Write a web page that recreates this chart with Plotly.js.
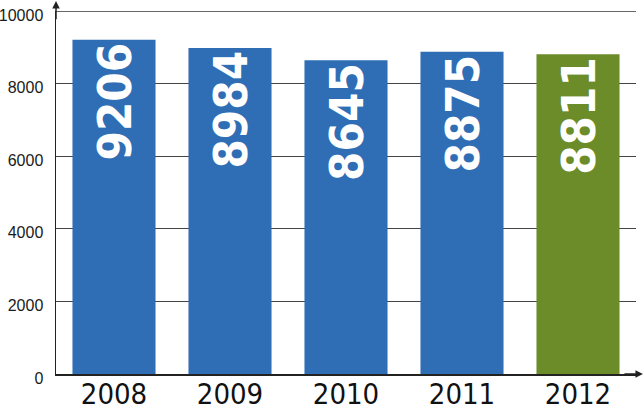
<!DOCTYPE html>
<html>
<head>
<meta charset="utf-8">
<script src="https://cdn.plot.ly/plotly-3.0.1.min.js"></script>
<style>html,body{margin:0;padding:0;background:#fff;}#chart{width:644px;height:414px;}</style>
</head>
<body>
<div id="chart"></div>
<script>
const years = ['2008', '2009', '2010', '2011', '2012'];
const values = [9206, 8984, 8645, 8875, 8811];
const barColors = ['#2f6eb5', '#2f6eb5', '#2f6eb5', '#2f6eb5', '#6b8c28'];
const yTicks = [0, 2000, 4000, 6000, 8000, 10000];
const yMax = 10000;

const trace = {
  type: 'bar',
  x: years,
  y: values,
  width: 0.716,
  marker: {color: barColors, line: {width: 0}},
  text: values.map(String),
  textposition: 'inside',
  insidetextanchor: 'end',
  textangle: -90,
  textfont: {family: '"DejaVu Sans Condensed", "DejaVu Sans", sans-serif', stretch: 'condensed', size: 47, color: '#ffffff', weight: 'bold'},
  hoverinfo: 'none',
  cliponaxis: false
};

const layout = {
  width: 644, height: 414,
  margin: {l: 56, r: 8, t: 11, b: 40},
  paper_bgcolor: '#ffffff', plot_bgcolor: '#ffffff',
  showlegend: false,
  bargap: 0.284,
  xaxis: {
    type: 'category',
    range: [-0.5, 4.5],
    showgrid: false,
    showline: true, linecolor: '#222', linewidth: 1.5,
    ticks: '',
    ticklabelstandoff: -6,
    tickfont: {family: '"DejaVu Sans Condensed", "DejaVu Sans", sans-serif', stretch: 'condensed', size: 29, color: '#111'},
    zeroline: false
  },
  yaxis: {
    range: [0, yMax],
    tickvals: yTicks,
    ticktext: yTicks.map(String),
    showgrid: true, gridcolor: '#444', gridwidth: 1,
    showline: true, linecolor: '#222', linewidth: 1.5,
    ticks: '',
    ticklabelstandoff: 8,
    ticklabelshift: 4,
    tickfont: {family: '"Liberation Sans", Arial, sans-serif', size: 16, color: '#1a1a1a'},
    zeroline: false
  },
  shapes: [
    {type: 'line', xref: 'paper', yref: 'y', x0: 0, x1: 1, y0: yMax, y1: yMax,
     line: {color: '#333', width: 1.5}, layer: 'above'}
  ],
  annotations: [
    {xref: 'paper', yref: 'paper', x: 0, y: 1.028, text: '', showarrow: true,
     ax: 0, ay: 20, arrowhead: 2, arrowsize: 1, arrowwidth: 1.5, arrowcolor: '#222'},
    {xref: 'paper', yref: 'paper', x: 1.012, y: 0, text: '', showarrow: true,
     ax: -20, ay: 0, arrowhead: 2, arrowsize: 1, arrowwidth: 1.5, arrowcolor: '#222'}
  ]
};

Plotly.newPlot('chart', [trace], layout, {displayModeBar: false, staticPlot: true});
</script>
</body>
</html>
